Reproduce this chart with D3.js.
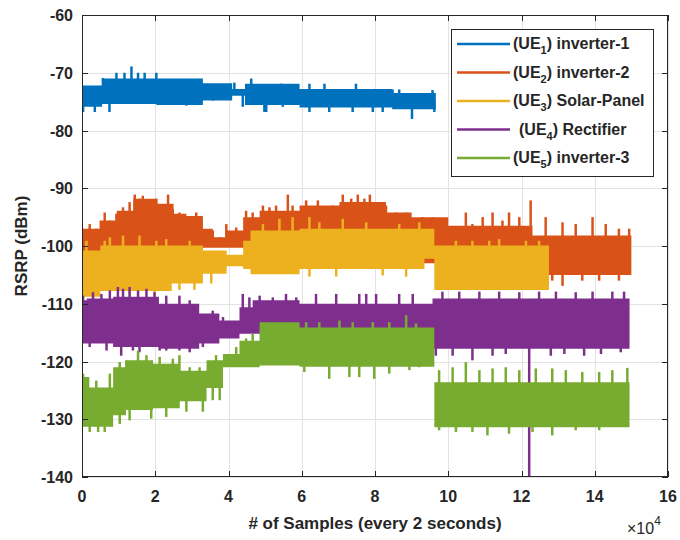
<!DOCTYPE html>
<html><head><meta charset="utf-8">
<script src="https://cdn.jsdelivr.net/npm/d3@7"></script>
<style>body{margin:0;background:#fff}svg{display:block}text{font-family:"Liberation Sans",Arial,sans-serif;font-weight:bold;fill:#262626}</style>
</head><body><svg id="c" width="680" height="540"></svg>
<script>
// ---- data (x in units of 1e4 samples, y in dBm) ----
const xTicks = [0,2,4,6,8,10,12,14,16];
const yTicks = [-140,-130,-120,-110,-100,-90,-80,-70,-60];
const seriesNames = ["inverter-1","inverter-2","Solar-Panel","Rectifier","inverter-3"];
const seriesColors = ["#0072BD","#D95319","#EDB120","#7E2F8E","#77AC30"];

// core band (x, upper, lower) and spikes [x, value] per UE
const ue1X  = [0,0.55,2.03,3.3,4.1,4.45,5.94,8.47,9.66];
const ue1Hi = [-72.2,-71.0,-71.0,-71.8,-72.8,-71.9,-72.8,-73.5,-73.5];
const ue1Lo = [-75.9,-75.4,-75.6,-74.8,-74.0,-75.6,-76.0,-76.3,-76.3];
const ue1Up = [[0.57,-70.9],[0.94,-70],[1.16,-70],[1.35,-68.9],[1.53,-70],[1.71,-70],[2.03,-70],[2.57,-71.2],[2.85,-71.2],[4.16,-71.7],[4.62,-71.0],[5.44,-71.9],[6.21,-71.9],[6.62,-71.9],[7.48,-71.9],[8.48,-72.9],[8.66,-72.9],[9.57,-73.0]];
const ue1Dn = [[0.03,-76.8],[0.35,-76.8],[0.75,-76.8],[1.3,-75.4],[1.76,-75.4],[2.3,-75.4],[2.85,-75.7],[3.57,-74.8],[4.39,-75.9],[4.98,-76.8],[5.03,-76.8],[5.48,-75.9],[6.21,-76.8],[6.75,-76.8],[7.39,-76.8],[7.94,-76.8],[8.21,-76.8],[9.01,-78.0],[9.62,-76.8]];

const ue2X  = [0,0.48,0.95,1.4,2.05,2.5,2.85,3.3,3.57,3.95,4.4,4.85,5.94,7.03,8.3,9.0,10.0,12.3,15.0];
const ue2Hi = [-97.0,-95.6,-93.9,-91.8,-92.7,-94.4,-94.8,-97.0,-98.5,-97.3,-95.0,-93.9,-93.0,-92.4,-94.2,-95.0,-96.5,-98.2,-98.2];
const ue2Lo = [-101.5,-101.5,-101.5,-101.5,-101.5,-101.5,-101.5,-100.3,-100.3,-100.3,-100.3,-103,-103,-103,-103,-103,-104,-105,-105];
const ue2Up = [[0.03,-97.0],[0.21,-96.2],[0.39,-97.0],[0.62,-94.2],[0.76,-95.6],[0.94,-94.4],[1.12,-93.3],[1.30,-92.4],[1.44,-91.1],[1.57,-91.8],[1.66,-91.3],[1.85,-92.1],[2.03,-91.8],[2.17,-93.0],[2.35,-91.1],[2.48,-93.6],[2.66,-94.2],[2.85,-95.0],[3.12,-94.2],[3.26,-95.6],[3.57,-97.3],[3.76,-98.5],[3.94,-96.2],[4.21,-96.8],[4.48,-93.9],[4.66,-94.2],[4.94,-93.0],[5.12,-93.3],[5.30,-93.0],[5.62,-91.1],[5.75,-93.0],[6.12,-92.1],[6.44,-92.1],[6.85,-93.0],[7.12,-91.1],[7.35,-91.8],[7.53,-91.1],[7.71,-91.8],[7.86,-91.1],[8.07,-93.0],[8.30,-93.0],[8.57,-94.2],[8.85,-94.2],[9.07,-95.6],[9.30,-95.0],[9.57,-95.0],[9.84,-96.2],[10.48,-94.2],[10.66,-96.2],[10.94,-95.0],[11.21,-94.2],[11.48,-95.6],[11.66,-94.2],[11.94,-95.0],[12.25,-92.1],[12.66,-95.0],[13.12,-95.9],[13.48,-96.2],[13.94,-95.0],[14.30,-96.2],[14.66,-97.0],[14.94,-97.0]];
const ue2Dn = [[12.84,-106.0],[13.12,-106.9],[13.66,-106.0],[14.12,-106.0],[14.66,-106.0]];

const ue3X  = [0,0.5,2.45,3.3,3.95,4.4,4.6,5.94,9.35,9.62,12.75];
const ue3Hi = [-100.8,-99.9,-99.9,-100.8,-101.5,-99.1,-97.3,-97.0,-97.0,-99.9,-99.9];
const ue3Lo = [-108.8,-107.8,-106.5,-104.8,-103.5,-104.0,-104.9,-104.0,-102.2,-107.6,-107.6];
const ue3Up = [[0.12,-99.1],[0.62,-99.1],[0.76,-98.5],[1.12,-98.2],[1.57,-98.2],[2.03,-99.1],[2.30,-98.8],[2.94,-99.1],[4.94,-96.2],[5.39,-95.3],[5.75,-95.0],[6.21,-95.0],[6.48,-95.9],[7.12,-95.3],[7.76,-95.9],[8.66,-96.2],[9.21,-95.9],[10.21,-99.1],[10.66,-99.1],[11.12,-99.1],[11.39,-98.8],[12.12,-99.1],[12.48,-99.1]];
const ue3Dn = [[0.30,-109.2],[1.30,-108.5],[1.98,-108.3],[2.66,-107.6],[3.07,-107.6],[3.53,-106.5],[6.21,-105.3],[6.94,-105.3],[8.21,-105.1],[8.85,-105.3]];

const ue4X  = [0,0.13,0.85,2.1,3.2,3.75,4.3,4.66,5.94,9.57,14.95];
const ue4Hi = [-109.4,-109.1,-108.8,-110.0,-111.7,-112.9,-110.6,-109.4,-110.0,-109.1,-109.1];
const ue4Lo = [-116.9,-116.9,-117.5,-117.8,-116.9,-116.0,-115.2,-115.2,-115.2,-117.8,-117.8];
const ue4Up = [[0.03,-108.6],[0.30,-108.0],[0.53,-108.3],[0.76,-107.7],[0.98,-107.1],[1.12,-107.4],[1.30,-107.1],[1.53,-107.7],[1.76,-107.4],[1.98,-108.0],[2.30,-108.6],[2.66,-108.6],[2.94,-109.4],[3.12,-110.6],[3.57,-111.2],[3.85,-112.3],[4.39,-108.3],[4.57,-108.9],[4.85,-108.6],[5.21,-108.9],[5.57,-108.3],[5.85,-108.9],[6.39,-108.3],[6.94,-108.3],[7.57,-108.3],[7.76,-108.3],[8.03,-108.3],[8.66,-108.3],[9.03,-108.3],[9.84,-107.9],[10.30,-107.9],[10.85,-107.9],[11.39,-107.9],[11.94,-108.0],[12.48,-107.9],[12.94,-107.9],[13.48,-108.0],[13.94,-107.9],[14.48,-107.9],[14.80,-107.9]];
const ue4Dn = [[0.21,-117.5],[0.67,-118.1],[1.07,-119.0],[1.39,-118.1],[1.57,-118.4],[2.12,-118.1],[2.30,-118.1],[2.66,-118.1],[2.94,-118.4],[3.30,-117.5],[9.66,-119.0],[10.12,-119.0],[10.66,-119.8],[11.21,-119.0],[11.57,-118.7],[12.21,-141],[12.80,-119.0],[13.17,-118.7],[13.71,-119.0],[14.17,-118.7],[14.71,-118.4]];

const ue5X  = [0,0.2,0.85,1.2,1.94,2.67,3.4,3.85,4.3,4.85,5.94,9.62,14.95];
const ue5Hi = [-122.7,-124.5,-121.0,-119.8,-120.4,-121.6,-119.8,-118.7,-116.4,-113.2,-114.1,-123.6,-123.6];
const ue5Lo = [-131.3,-131.3,-129.3,-128.4,-128.1,-126.9,-124.6,-121.0,-121.0,-120.7,-120.9,-131.4,-131.4];
const ue5Up = [[0.03,-122.1],[0.39,-123.3],[0.76,-122.1],[1.03,-120.1],[1.21,-119.8],[1.53,-118.1],[1.76,-118.9],[2.12,-119.2],[2.48,-119.5],[2.66,-118.9],[2.94,-121.0],[3.21,-121.0],[3.48,-120.4],[3.66,-118.9],[3.94,-119.2],[4.21,-117.5],[4.48,-116.0],[4.66,-115.2],[4.89,-114.0],[6.12,-113.2],[6.48,-113.2],[7.03,-112.9],[7.39,-113.2],[7.94,-113.2],[8.39,-113.2],[8.85,-112.0],[9.12,-113.4],[9.75,-121.5],[10.12,-121.0],[10.48,-120.1],[10.85,-121.5],[11.21,-121.2],[11.57,-121.0],[11.94,-121.5],[12.39,-121.2],[12.84,-121.2],[13.21,-121.5],[13.66,-121.8],[14.12,-121.8],[14.48,-121.5],[14.89,-121.1]];
const ue5Dn = [[0.21,-132.2],[0.44,-132.2],[0.62,-132.2],[1.03,-130.8],[1.30,-130.2],[1.89,-129.9],[2.30,-129.6],[2.85,-128.7],[3.30,-128.7],[3.57,-126.7],[3.76,-126.7],[6.07,-121.8],[6.75,-123.0],[7.30,-122.7],[7.57,-122.7],[7.98,-123.0],[8.39,-122.1],[8.94,-121.5],[9.21,-121.0],[9.75,-131.9],[10.21,-132.2],[10.66,-132.2],[11.07,-132.8],[11.66,-132.5],[12.30,-132.2],[12.84,-132.8],[13.48,-131.9],[14.12,-131.9],[14.75,-131.3]];

const series = [
  {x:ue1X,hi:ue1Hi,lo:ue1Lo,up:ue1Up,dn:ue1Dn},
  {x:ue2X,hi:ue2Hi,lo:ue2Lo,up:ue2Up,dn:ue2Dn},
  {x:ue3X,hi:ue3Hi,lo:ue3Lo,up:ue3Up,dn:ue3Dn},
  {x:ue4X,hi:ue4Hi,lo:ue4Lo,up:ue4Up,dn:ue4Dn},
  {x:ue5X,hi:ue5Hi,lo:ue5Lo,up:ue5Up,dn:ue5Dn}
];

// ---- layout ----
const L=82, R=668, T=15, B=477;
const svg = d3.select("#c");
const x = d3.scaleLinear().domain([0,16]).range([L,R]);
const y = d3.scaleLinear().domain([-140,-60]).range([B,T]);

svg.append("defs").append("clipPath").attr("id","clip")
  .append("rect").attr("x",L).attr("y",T).attr("width",R-L).attr("height",B-T);

// grid
const grid = svg.append("g").attr("stroke","#e3e3e3").attr("stroke-width",1);
xTicks.forEach(t=>grid.append("line").attr("x1",Math.round(x(t))+0.5).attr("x2",Math.round(x(t))+0.5).attr("y1",T).attr("y2",B));
yTicks.forEach(t=>grid.append("line").attr("y1",Math.round(y(t))+0.5).attr("y2",Math.round(y(t))+0.5).attr("x1",L).attr("x2",R));

// data
const plot = svg.append("g").attr("clip-path","url(#clip)");
series.forEach((s,i)=>{
  const pts = s.x.map((xv,j)=>({x:xv,hi:s.hi[j],lo:s.lo[j]}));
  const area = d3.area().curve(d3.curveStepAfter)
    .x(d=>x(d.x)).y0(d=>y(d.lo)).y1(d=>y(d.hi));
  const g = plot.append("g");
  g.append("path").attr("d",area(pts)).attr("fill",seriesColors[i]);
  const bis = d3.bisector(d=>d.x).right;
  const at = xv => pts[Math.max(0,bis(pts,xv)-1)];
  s.up.concat(s.dn).forEach(([xv,v])=>{
    const p=at(xv);
    g.append("line").attr("x1",x(xv)).attr("x2",x(xv)).attr("y1",y(v)).attr("y2",y((p.hi+p.lo)/2))
      .attr("stroke",seriesColors[i]).attr("stroke-width",2.5);
  });
});

// box and ticks
const ax = svg.append("g").attr("stroke","#262626").attr("stroke-width",1).attr("fill","none");
ax.append("rect").attr("x",L+0.5).attr("y",T+0.5).attr("width",R-L-1).attr("height",B-T-1);
const tl=6;
xTicks.forEach(t=>{const xp=Math.round(x(t))+0.5;
  ax.append("line").attr("x1",xp).attr("x2",xp).attr("y1",B).attr("y2",B-tl);
  ax.append("line").attr("x1",xp).attr("x2",xp).attr("y1",T).attr("y2",T+tl);});
yTicks.forEach(t=>{const yp=Math.round(y(t))+0.5;
  ax.append("line").attr("x1",L).attr("x2",L+tl).attr("y1",yp).attr("y2",yp);
  ax.append("line").attr("x1",R).attr("x2",R-tl).attr("y1",yp).attr("y2",yp);});

// tick labels
xTicks.forEach(t=>svg.append("text").attr("x",x(t)).attr("y",502).attr("text-anchor","middle")
  .attr("font-size",16).text(t));
yTicks.forEach(t=>svg.append("text").attr("x",73).attr("y",y(t)+6).attr("text-anchor","end")
  .attr("font-size",16).text(t));

// axis titles
svg.append("text").attr("x",(L+R)/2).attr("y",529).attr("text-anchor","middle").attr("font-size",17)
  .text("# of Samples (every 2 seconds)");
svg.append("text").attr("transform",`translate(27,${(T+B)/2}) rotate(-90)`).attr("text-anchor","middle")
  .attr("font-size",17).text("RSRP (dBm)");
const ex = svg.append("text").attr("x",627).attr("y",534).attr("font-size",16).style("font-weight","normal");
ex.append("tspan").text("\u00d710");
ex.append("tspan").attr("dy",-9).attr("font-size",12).text("4");

// legend
const lg = svg.append("g");
lg.append("rect").attr("x",451.5).attr("y",29.5).attr("width",202).attr("height",147)
  .attr("fill","#fff").attr("stroke","#262626").attr("stroke-width",1);
seriesNames.forEach((n,i)=>{
  const yy = 44 + i*28.5;
  lg.append("line").attr("x1",457).attr("x2",510).attr("y1",yy).attr("y2",yy)
    .attr("stroke",seriesColors[i]).attr("stroke-width",2.5);
  const t = lg.append("text").attr("x", i===3?519:513).attr("y",yy+5).attr("font-size",16);
  t.append("tspan").text("(UE");
  t.append("tspan").attr("dy",5).attr("font-size",11).text(String(i+1));
  t.append("tspan").attr("dy",-5).text(") "+n);
});
</script></body></html>
